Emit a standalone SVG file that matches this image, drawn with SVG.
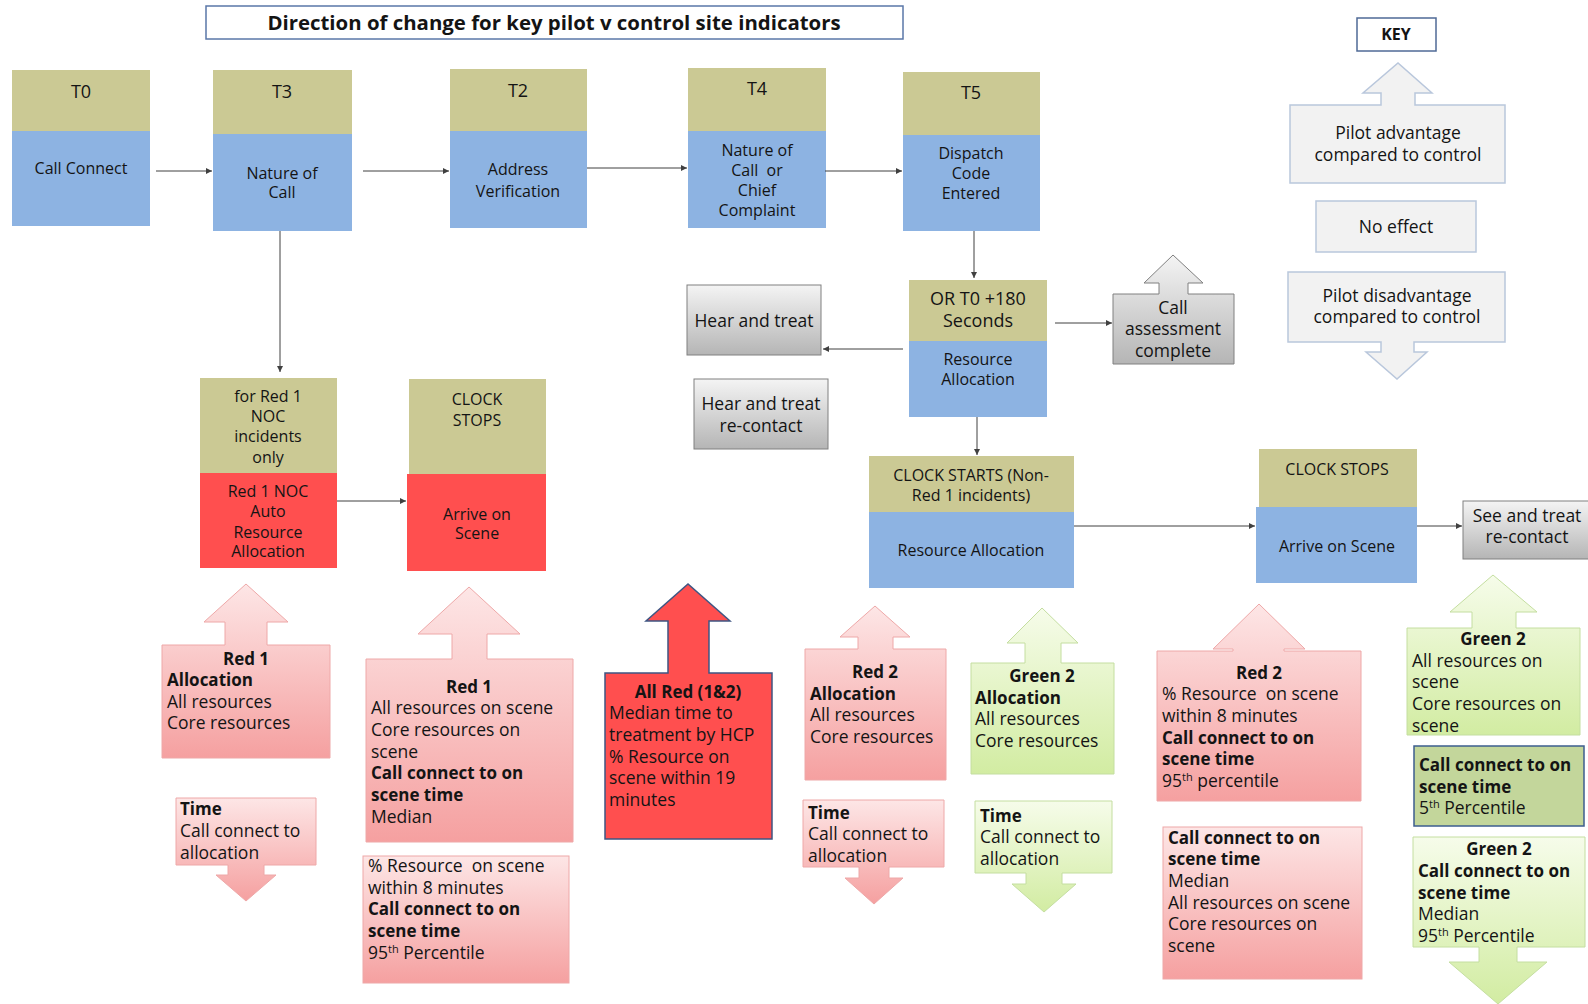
<svg xmlns="http://www.w3.org/2000/svg" width="1588" height="1004" viewBox="0 0 1588 1004">
<defs>
<linearGradient id="gPink" x1="0" y1="0" x2="0" y2="1"><stop offset="0" stop-color="#fde6e6"/><stop offset="1" stop-color="#f5a0a0"/></linearGradient>
<linearGradient id="gGreen" x1="0" y1="0" x2="0" y2="1"><stop offset="0" stop-color="#f6fcea"/><stop offset="1" stop-color="#d2eca2"/></linearGradient>
<linearGradient id="gGray" x1="0" y1="0" x2="0" y2="1"><stop offset="0" stop-color="#f4f4f4"/><stop offset="1" stop-color="#b5b5b5"/></linearGradient>
<marker id="ah" markerUnits="userSpaceOnUse" markerWidth="7" markerHeight="6" refX="6" refY="3" orient="auto"><path d="M0,0 L6,3 L0,6 Z" fill="#404040"/></marker>
<style>
text{font-family:"Open Sans","Liberation Sans",sans-serif;fill:#141414}
.hd{fill:#cbc994}
.bd{fill:#8db3e2}
.rd{fill:#ff4f4f}
.m{font-size:16px;text-anchor:middle}
.h{font-size:18px;text-anchor:middle}
.g{font-size:17.5px;text-anchor:middle}
.t{font-size:17.5px}
.t.b{font-size:17px}
.c{text-anchor:middle}
.b{font-weight:bold}
.pink{fill:url(#gPink);stroke:#eea8a8;stroke-width:1}
.green{fill:url(#gGreen);stroke:#c4dea0;stroke-width:1}
.gray{fill:url(#gGray);stroke:#808080;stroke-width:1}
.key{fill:#f2f2f2;stroke:#b9c7dc;stroke-width:1.5}
.con{fill:none;stroke:#404040;stroke-width:1;marker-end:url(#ah)}
.pre{white-space:pre}
</style>
</defs>
<rect width="1588" height="1004" fill="#ffffff"/>

<g id="title">
<rect x="206" y="6" width="697" height="33" fill="#ffffff" stroke="#5a77a8" stroke-width="1.5"/>
<text x="554" y="29.5" class="c b" font-size="20.4">Direction of change for key pilot v control site indicators</text>
</g>

<g id="t0">
<rect x="12" y="70" width="138" height="61" class="hd"/>
<rect x="12" y="131" width="138" height="95" class="bd"/>
<text x="81" y="98" class="h">T0</text>
<text x="81" y="174" class="m">Call Connect</text>
</g>
<g id="t3">
<rect x="213" y="70" width="139" height="64" class="hd"/>
<rect x="213" y="134" width="139" height="97" class="bd"/>
<text x="282" y="98" class="h">T3</text>
<text x="282" y="179" class="m">Nature of</text>
<text x="282" y="198" class="m">Call</text>
</g>
<g id="t2">
<rect x="450" y="69" width="137" height="62" class="hd"/>
<rect x="450" y="131" width="137" height="97" class="bd"/>
<text x="518" y="97" class="h">T2</text>
<text x="518" y="175" class="m">Address</text>
<text x="518" y="197" class="m">Verification</text>
</g>
<g id="t4">
<rect x="688" y="68" width="138" height="63" class="hd"/>
<rect x="688" y="131" width="138" height="97" class="bd"/>
<text x="757" y="95" class="h">T4</text>
<text x="757" y="156" class="m">Nature of</text>
<text x="757" y="176" class="m pre">Call  or</text>
<text x="757" y="196" class="m">Chief</text>
<text x="757" y="216" class="m">Complaint</text>
</g>
<g id="t5">
<rect x="903" y="72" width="137" height="63" class="hd"/>
<rect x="903" y="135" width="137" height="96" class="bd"/>
<text x="971" y="99" class="h">T5</text>
<text x="971" y="159" class="m">Dispatch</text>
<text x="971" y="179" class="m">Code</text>
<text x="971" y="199" class="m">Entered</text>
</g>

<g id="or180">
<rect x="909" y="280" width="138" height="61" class="hd"/>
<rect x="909" y="341" width="138" height="76" class="bd"/>
<text x="978" y="305" class="h">OR T0 +180</text>
<text x="978" y="327" class="h">Seconds</text>
<text x="978" y="365" class="m">Resource</text>
<text x="978" y="385" class="m">Allocation</text>
</g>
<g id="hear-treat">
<rect x="687" y="285" width="134" height="70" class="gray"/>
<text x="754" y="327" class="g">Hear and treat</text>
</g>
<g id="hear-treat-recontact">
<rect x="694" y="379" width="134" height="70" class="gray"/>
<text x="761" y="410" class="g">Hear and treat</text>
<text x="761" y="432" class="g">re-contact</text>
</g>
<g id="call-assessment">
<path d="M1113,294 H1159 V283 H1144 L1173,255 L1203,283 H1188 V294 H1234 V364 H1113 Z" class="gray"/>
<text x="1173" y="314" class="g">Call</text>
<text x="1173" y="335" class="g">assessment</text>
<text x="1173" y="357" class="g">complete</text>
</g>

<g id="key">
<rect x="1357" y="18" width="79" height="33" fill="#ffffff" stroke="#4f6a96" stroke-width="1.5"/>
<text x="1396" y="40" class="c b" font-size="16">KEY</text>
</g>
<g id="key-advantage">
<path d="M1290,105 H1381 V93 H1363 L1398,63 L1432,93 H1415 V105 H1505 V183 H1290 Z" class="key"/>
<text x="1398" y="139" class="g">Pilot advantage</text>
<text x="1398" y="161" class="g">compared to control</text>
</g>
<g id="key-noeffect">
<rect x="1316" y="201" width="160" height="51" class="key"/>
<text x="1396" y="233" class="g">No effect</text>
</g>
<g id="key-disadvantage">
<path d="M1288,272 H1505 V342 H1414 V352 H1427 L1397,379 L1366,352 H1381 V342 H1288 Z" class="key"/>
<text x="1397" y="302" class="g">Pilot disadvantage</text>
<text x="1397" y="323" class="g">compared to control</text>
</g>

<g id="red1-noc">
<rect x="200" y="378" width="137" height="95" class="hd"/>
<rect x="200" y="473" width="137" height="95" class="rd"/>
<text x="268" y="402" class="m">for Red 1</text>
<text x="268" y="422" class="m">NOC</text>
<text x="268" y="442" class="m">incidents</text>
<text x="268" y="463" class="m">only</text>
<text x="268" y="497" class="m">Red 1 NOC</text>
<text x="268" y="517" class="m">Auto</text>
<text x="268" y="538" class="m">Resource</text>
<text x="268" y="557" class="m">Allocation</text>
</g>
<g id="clock-stops-red1">
<rect x="409" y="379" width="137" height="95" class="hd"/>
<rect x="407" y="474" width="139" height="97" class="rd"/>
<text x="477" y="405" class="m">CLOCK</text>
<text x="477" y="426" class="m">STOPS</text>
<text x="477" y="520" class="m">Arrive on</text>
<text x="477" y="539" class="m">Scene</text>
</g>

<g id="clock-starts">
<rect x="869" y="456" width="205" height="56" class="hd"/>
<rect x="869" y="512" width="205" height="76" class="bd"/>
<text x="971" y="481" class="m">CLOCK STARTS (Non-</text>
<text x="971" y="501" class="m">Red 1 incidents)</text>
<text x="971" y="556" class="m">Resource Allocation</text>
</g>
<g id="clock-stops">
<rect x="1259" y="449" width="158" height="58" class="hd"/>
<rect x="1256" y="507" width="161" height="76" class="bd"/>
<text x="1337" y="475" class="m">CLOCK STOPS</text>
<text x="1337" y="552" class="m">Arrive on Scene</text>
</g>
<g id="see-treat-recontact">
<rect x="1463" y="501" width="130" height="58" class="gray"/>
<text x="1527" y="522" class="g">See and treat</text>
<text x="1527" y="543" class="g">re-contact</text>
</g>

<g id="connectors">
<path d="M156,171 H212" class="con"/>
<path d="M363,171 H449" class="con"/>
<path d="M587,168 H687" class="con"/>
<path d="M825,171 H902" class="con"/>
<path d="M974,231 V278" class="con"/>
<path d="M280,231 V372" class="con"/>
<path d="M337,501 H406" class="con"/>
<path d="M903,349 H823" class="con"/>
<path d="M1055,323 H1112" class="con" stroke="#808080"/>
<path d="M977,417 V455" class="con"/>
<path d="M1074,526 H1255" class="con"/>
<path d="M1417,526 H1462" class="con"/>
</g>

<g id="red1-allocation">
<path d="M162,645 H225 V622 H204 L246,584 L288,622 H267 V645 H330 V758 H162 Z" class="pink"/>
<text x="246" y="665" class="t c b">Red 1</text>
<text x="167" y="686" class="t b">Allocation</text>
<text x="167" y="708" class="t">All resources</text>
<text x="167" y="729" class="t">Core resources</text>
</g>
<g id="red1-time">
<path d="M176,798 H316 V865 H264 V875 H276 L246,901 L216,875 H228 V865 H176 Z" class="pink"/>
<text x="180" y="815" class="t b">Time</text>
<text x="180" y="837" class="t">Call connect to</text>
<text x="180" y="859" class="t">allocation</text>
</g>
<g id="red1-onscene">
<path d="M366,659 H452 V634 H418 L469,587 L520,634 H487 V659 H573 V842 H366 Z" class="pink"/>
<text x="469" y="693" class="t c b">Red 1</text>
<text x="371" y="714" class="t">All resources on scene</text>
<text x="371" y="736" class="t">Core resources on</text>
<text x="371" y="758" class="t">scene</text>
<text x="371" y="779" class="t b">Call connect to on</text>
<text x="371" y="801" class="t b">scene time</text>
<text x="371" y="823" class="t">Median</text>
</g>
<g id="red1-percent">
<rect x="363" y="856" width="206" height="127" class="pink"/>
<text x="368" y="872" class="t pre">% Resource  on scene</text>
<text x="368" y="894" class="t">within 8 minutes</text>
<text x="368" y="915" class="t b">Call connect to on</text>
<text x="368" y="937" class="t b">scene time</text>
<text x="368" y="959" class="t">95<tspan font-size="11" dy="-6">th</tspan><tspan dy="6"> Percentile</tspan></text>
</g>
<g id="all-red">
<path d="M605,673 H668 V621 H646 L688,584 L730,621 H709 V673 H772 V839 H605 Z" fill="#ff4f4f" stroke="#3f5683" stroke-width="1.5"/>
<text x="688" y="698" class="t c b">All Red (1&amp;2)</text>
<text x="609" y="719" class="t">Median time to</text>
<text x="609" y="741" class="t">treatment by HCP</text>
<text x="609" y="763" class="t">% Resource on</text>
<text x="609" y="784" class="t">scene within 19</text>
<text x="609" y="806" class="t">minutes</text>
</g>
<g id="red2-allocation">
<path d="M805,649 H858 V637 H840 L875,606 L910,637 H893 V649 H946 V780 H805 Z" class="pink"/>
<text x="875" y="678" class="t c b">Red 2</text>
<text x="810" y="700" class="t b">Allocation</text>
<text x="810" y="721" class="t">All resources</text>
<text x="810" y="743" class="t">Core resources</text>
</g>
<g id="red2-time">
<path d="M803,800 H944 V867 H889 V878 H903 L874,904 L845,878 H859 V867 H803 Z" class="pink"/>
<text x="808" y="819" class="t b">Time</text>
<text x="808" y="840" class="t">Call connect to</text>
<text x="808" y="862" class="t">allocation</text>
</g>
<g id="green2-allocation">
<path d="M971,663 H1025 V643 H1007 L1042,608 L1078,643 H1061 V663 H1114 V774 H971 Z" class="green"/>
<text x="1042" y="682" class="t c b">Green 2</text>
<text x="975" y="704" class="t b">Allocation</text>
<text x="975" y="725" class="t">All resources</text>
<text x="975" y="747" class="t">Core resources</text>
</g>
<g id="green2-time">
<path d="M975,801 H1112 V873 H1062 V884 H1076 L1044,912 L1012,884 H1026 V873 H975 Z" class="green"/>
<text x="980" y="822" class="t b">Time</text>
<text x="980" y="843" class="t">Call connect to</text>
<text x="980" y="865" class="t">allocation</text>
</g>
<g id="red2-percent">
<path d="M1157,651 H1233 V649 H1213 L1259,604 L1305,649 H1284 V651 H1361 V801 H1157 Z" class="pink"/>
<text x="1259" y="679" class="t c b">Red 2</text>
<text x="1162" y="700" class="t pre">% Resource  on scene</text>
<text x="1162" y="722" class="t">within 8 minutes</text>
<text x="1162" y="744" class="t b">Call connect to on</text>
<text x="1162" y="765" class="t b">scene time</text>
<text x="1162" y="787" class="t">95<tspan font-size="11" dy="-6">th</tspan><tspan dy="6"> percentile</tspan></text>
</g>
<g id="red2-median">
<rect x="1163" y="827" width="199" height="152" class="pink"/>
<text x="1168" y="844" class="t b">Call connect to on</text>
<text x="1168" y="865" class="t b">scene time</text>
<text x="1168" y="887" class="t">Median</text>
<text x="1168" y="909" class="t">All resources on scene</text>
<text x="1168" y="930" class="t">Core resources on</text>
<text x="1168" y="952" class="t">scene</text>
</g>
<g id="green2-onscene">
<path d="M1407,628 H1472 V612 H1450 L1493,575 L1537,612 H1516 V628 H1580 V735 H1407 Z" class="green"/>
<text x="1493" y="645" class="t c b">Green 2</text>
<text x="1412" y="667" class="t">All resources on</text>
<text x="1412" y="688" class="t">scene</text>
<text x="1412" y="710" class="t">Core resources on</text>
<text x="1412" y="732" class="t">scene</text>
</g>
<g id="green2-5th">
<rect x="1414" y="746" width="170" height="80" fill="#c3d69b" stroke="#3d5d8f" stroke-width="1.5"/>
<text x="1419" y="771" class="t b">Call connect to on</text>
<text x="1419" y="793" class="t b">scene time</text>
<text x="1419" y="814" class="t">5<tspan font-size="11" dy="-6">th</tspan><tspan dy="6"> Percentile</tspan></text>
</g>
<g id="green2-median">
<path d="M1413,837 H1585 V947 H1517 V962 H1547 L1498,1004 L1449,962 H1479 V947 H1413 Z" class="green"/>
<text x="1499" y="855" class="t c b">Green 2</text>
<text x="1418" y="877" class="t b">Call connect to on</text>
<text x="1418" y="899" class="t b">scene time</text>
<text x="1418" y="920" class="t">Median</text>
<text x="1418" y="942" class="t">95<tspan font-size="11" dy="-6">th</tspan><tspan dy="6"> Percentile</tspan></text>
</g>
</svg>
